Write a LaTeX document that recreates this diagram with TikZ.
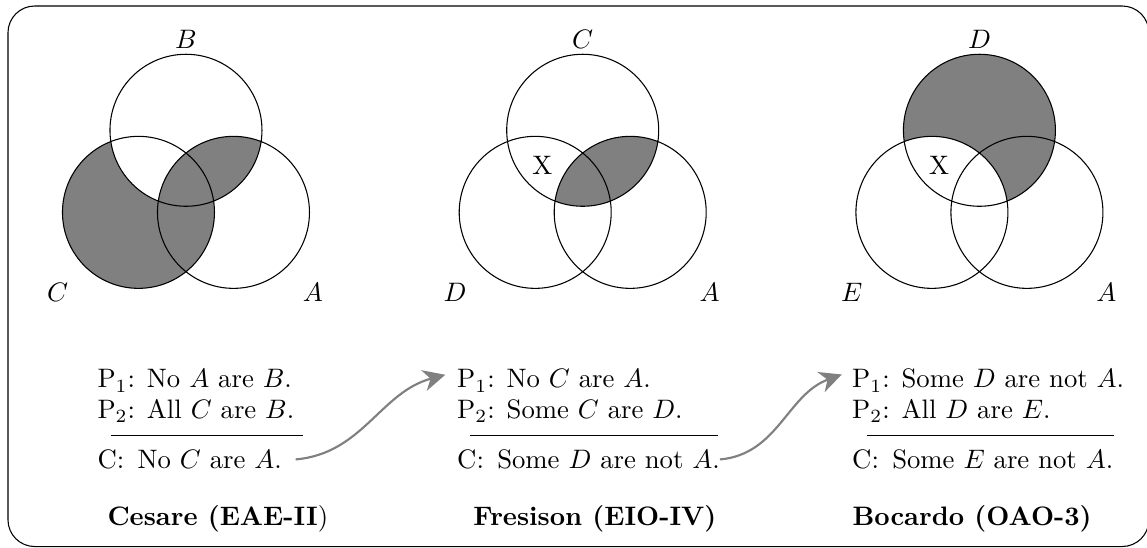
\documentclass[tikz,border=0pt]{standalone}
\usetikzlibrary{positioning,arrows.meta}
\newcommand{\Rvenn}{1}

\begin{document}
\begin{tikzpicture}[
 stm/.style={anchor=base west,inner sep=0pt},
 concl/.style={stm},
 ttl/.style={anchor=base west,inner sep=0pt,font=\bfseries},
 lab/.style={inner sep=1pt},
 shd/.style={fill=black!50},
 arr/.style={-{Stealth[length=2.9mm,width=2.8mm,inset=0.9mm]},thick,black!50}]
\useasboundingbox (-2.447,-4.776) rectangle (12.645,2.434);
\draw[rounded corners=10pt] (-2.342,-4.757) rectangle (12.67,2.355);
% Cesare: B top, C left, A right
\coordinate (B1) at (0,0.72); \coordinate (C1) at (-0.625,-0.36); \coordinate (A1) at (0.625,-0.36);
\begin{scope}\clip (C1) circle (\Rvenn); \fill[shd,even odd rule] (C1) circle (\Rvenn) (B1) circle (\Rvenn);\end{scope}
\begin{scope}\clip (A1) circle (\Rvenn); \fill[shd] (B1) circle (\Rvenn);\end{scope}
\draw (B1) circle (\Rvenn) (C1) circle (\Rvenn) (A1) circle (\Rvenn);
\node[lab] (lB1) at (0,1.91) {$B$};
\node[lab] (lC1) at (-1.69,-1.41) {$C$};
\node[lab] (lA1) at (1.67,-1.41) {$A$};
% Fresison: C top, D left, A right
\coordinate (C2) at (5.22,0.72); \coordinate (D2) at (4.595,-0.36); \coordinate (A2) at (5.845,-0.36);
\begin{scope}\clip (A2) circle (\Rvenn); \fill[shd] (C2) circle (\Rvenn);\end{scope}
\draw (C2) circle (\Rvenn) (D2) circle (\Rvenn) (A2) circle (\Rvenn);
\node[lab] (lC2) at (5.22,1.91) {$C$};
\node[lab] (lD2) at (3.54,-1.41) {$D$};
\node[lab] (lA2) at (6.89,-1.41) {$A$};
\node (x2) at (4.69,0.26) {X};
% Bocardo: D top, E left, A right
\coordinate (D3) at (10.44,0.72); \coordinate (E3) at (9.815,-0.36); \coordinate (A3) at (11.065,-0.36);
\begin{scope}\clip (D3) circle (\Rvenn); \fill[shd,even odd rule] (D3) circle (\Rvenn) (E3) circle (\Rvenn);\end{scope}
\draw (D3) circle (\Rvenn) (E3) circle (\Rvenn) (A3) circle (\Rvenn);
\node[lab] (lD3) at (10.44,1.91) {$D$};
\node[lab] (lE3) at (8.76,-1.41) {$E$};
\node[lab] (lA3) at (12.11,-1.41) {$A$};
\node (x3) at (9.91,0.26) {X};
% syllogisms
\node[stm] (pre1a) at (-1.171,-2.671) {P$_1$: No $A$ are $B$.};
\node[stm,below=3.95mm of pre1a.base west,anchor=base west] (pre1b) {P$_2$: All $C$ are $B$.};
\node[concl,text width=2.70cm,below=10.6mm of pre1a.base west,anchor=base west] (con1) {C\@: No $C$ are $A$.};
\node[ttl] (tit1) at (-1.039,-4.474) {Cesare (EAE-II{\mdseries )}};
\node[stm] (pre2a) at (3.562,-2.671) {P$_1$: No $C$ are $A$.};
\node[stm,below=3.95mm of pre2a.base west,anchor=base west] (pre2b) {P$_2$: Some $C$ are $D$.};
\node[concl,text width=3.5cm,below=10.6mm of pre2a.base west,anchor=base west] (con2) {C\@: Some $D$ are not $A$.};
\node[ttl] (tit2) at (3.776,-4.474) {Fresison (EIO-IV)};
\node[stm] (pre3a) at (8.759,-2.671) {P$_1$: Some $D$ are not $A$.};
\node[stm,below=3.95mm of pre3a.base west,anchor=base west] (pre3b) {P$_2$: All $D$ are $E$.};
\node[concl,text width=3.52cm,below=10.6mm of pre3a.base west,anchor=base west] (con3) {C\@: Some $E$ are not $A$.};
\node[ttl] (tit3) at (8.763,-4.474) {Bocardo (OAO-3)};
\draw ([xshift=1.8mm,yshift=1.75mm]con1.north west) -- ([yshift=1.75mm]con1.north east);
\draw ([xshift=1.8mm,yshift=1.75mm]con2.north west) -- ([xshift=-0.8mm,yshift=1.75mm]con2.north east);
\draw ([xshift=2mm,yshift=1.75mm]con3.north west) -- ([xshift=-0.8mm,yshift=1.75mm]con3.north east);
\draw[arr] ([xshift=-1mm]con1.east) to[out=5,in=195] ([xshift=-1.5mm,yshift=0.8mm]pre2a.west);
\draw[arr] ([xshift=-0.5mm]con2.east) to[out=5,in=200] ([xshift=-1.3mm,yshift=0.8mm]pre3a.west);
\end{tikzpicture}
\end{document}
